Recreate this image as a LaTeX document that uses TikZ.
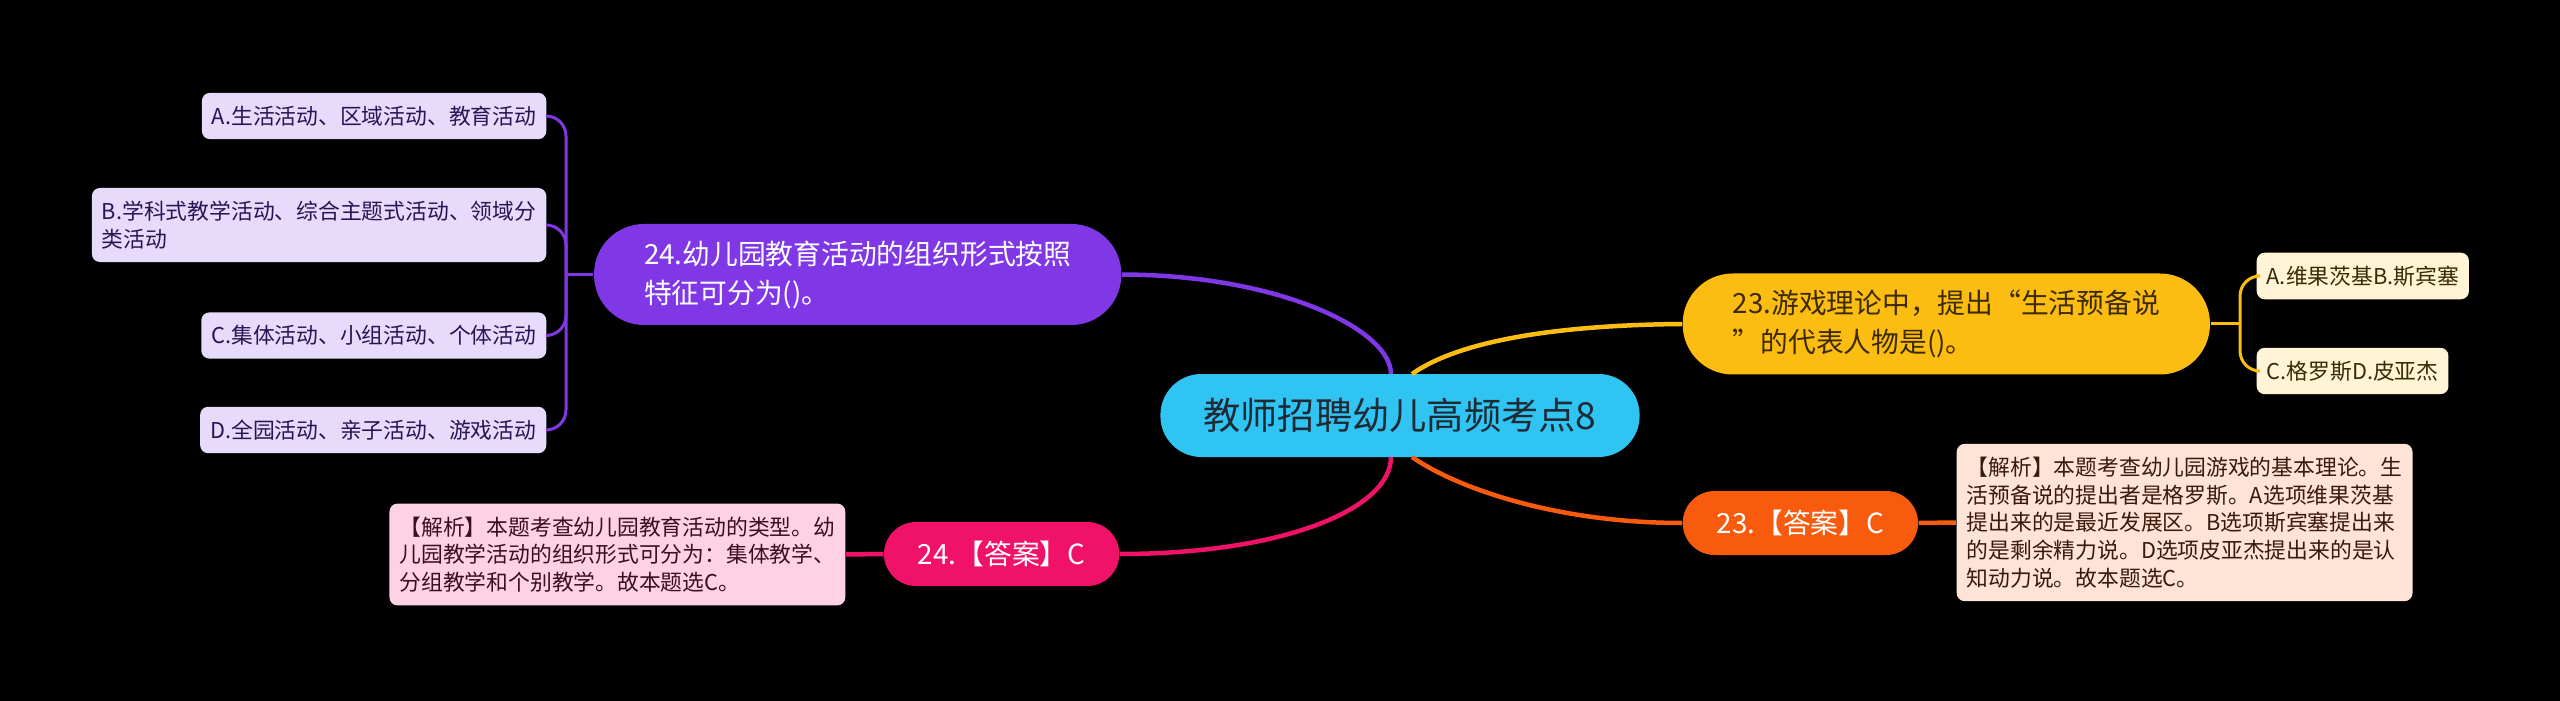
\documentclass[tikz,border=0pt]{standalone}
\usepackage{fontspec}
\setmainfont{Noto Sans CJK SC}
\usepackage{tikz}
\usetikzlibrary{positioning}

\definecolor{rootcol}{HTML}{30C4F2}
\definecolor{roottxt}{HTML}{1E2A35}
\definecolor{qpurple}{HTML}{8038E6}
\definecolor{optpurple}{HTML}{E6DBFA}
\definecolor{optpurpletxt}{HTML}{2B1455}
\definecolor{apink}{HTML}{F01169}
\definecolor{notepink}{HTML}{FFD1E5}
\definecolor{notepinktxt}{HTML}{3A0F22}
\definecolor{qyellow}{HTML}{FCBD12}
\definecolor{qyellowtxt}{HTML}{3D2A00}
\definecolor{optyellow}{HTML}{FFF4D6}
\definecolor{optyellowtxt}{HTML}{3A2A05}
\definecolor{aorange}{HTML}{F85B0D}
\definecolor{noteorange}{HTML}{FFE3D6}
\definecolor{noteorangetxt}{HTML}{3A1A0A}

\begin{document}
\begin{tikzpicture}[
    x=0.1mm, y=0.1mm,
    root/.style={fill=rootcol, text=roottxt, rounded corners=4.1mm, minimum height=8.3mm, inner xsep=4.3mm, font=\fontsize{10.6}{12}\selectfont},
    topic/.style={rounded corners=5mm, minimum height=10.1mm, inner xsep=5mm, align=left, text=white, font=\fontsize{7.9}{11.1}\selectfont},
    ans/.style={rounded corners=3.2mm, minimum height=6.4mm, inner xsep=3.4mm, text=white, font=\fontsize{7.9}{11.1}\selectfont},
    leaf/.style={rounded corners=0.8mm, minimum height=4.4mm, inner xsep=1mm, inner ysep=1.3mm, align=left, font=\fontsize{6.2}{7.9}\selectfont},
    link/.style={line width=0.45mm},
    sublink/.style={line width=0.3mm, rounded corners=2mm}
  ]
    \fill[black] (0,0) rectangle (2560,-701);

    \node[root] (root) at (1400,-415.5) {教师招聘幼儿高频考点8};

    % left side
    \node[topic, fill=qpurple, anchor=east] (q24) at (1122,-274.5) {24.幼儿园教育活动的组织形式按照\\特征可分为()。};
    \node[leaf, fill=optpurple, text=optpurpletxt, anchor=east] (o24a) at (547,-116) {A.生活活动、区域活动、教育活动};
    \node[leaf, fill=optpurple, text=optpurpletxt, anchor=east] (o24b) at (547,-225) {B.学科式教学活动、综合主题式活动、领域分\\类活动};
    \node[leaf, fill=optpurple, text=optpurpletxt, anchor=east] (o24c) at (547,-335.5) {C.集体活动、小组活动、个体活动};
    \node[leaf, fill=optpurple, text=optpurpletxt, anchor=east] (o24d) at (547,-430) {D.全园活动、亲子活动、游戏活动};
    \node[ans, fill=apink, anchor=east] (a24) at (1120,-554) {24.【答案】C};
    \node[leaf, fill=notepink, text=notepinktxt, anchor=east] (n24) at (846,-554.5) {【解析】本题考查幼儿园教育活动的类型。幼\\儿园教学活动的组织形式可分为：集体教学、\\分组教学和个别教学。故本题选C。};

    % right side
    \node[topic, fill=qyellow, text=qyellowtxt, anchor=west] (q23) at (1682,-324) {23.游戏理论中，提出“生活预备说\\”的代表人物是()。};
    \node[leaf, fill=optyellow, text=optyellowtxt, anchor=west] (o23a) at (2256,-276) {A.维果茨基B.斯宾塞};
    \node[leaf, fill=optyellow, text=optyellowtxt, anchor=west] (o23c) at (2256,-371) {C.格罗斯D.皮亚杰};
    \node[ans, fill=aorange, anchor=west] (a23) at (1682,-523) {23.【答案】C};
    \node[leaf, fill=noteorange, text=noteorangetxt, anchor=west] (n23) at (1956,-522.5) {【解析】本题考查幼儿园游戏的基本理论。生\\活预备说的提出者是格罗斯。A选项维果茨基\\提出来的是最近发展区。B选项斯宾塞提出来\\的是剩余精力说。D选项皮亚杰提出来的是认\\知动力说。故本题选C。};

    % connectors
    \coordinate (rtop1) at (1391,-374);
    \coordinate (rtop2) at (1412,-374);
    \coordinate (rbot1) at (1391,-457);
    \coordinate (rbot2) at (1412,-457);
    \coordinate (j24) at (566,-274.5);
    \coordinate (j23) at (2240,-324);

    \draw[link, qpurple] (rtop1) .. controls (1391,-330) and (1280,-275) .. (q24.east);
    \draw[link, qyellow] (rtop2) .. controls (1460,-340) and (1560,-325) .. (q23.west);
    \draw[link, apink] (rbot1) .. controls (1391,-510) and (1280,-554) .. (a24.east);
    \draw[link, aorange] (rbot2) .. controls (1460,-490) and (1560,-523) .. (a23.west);

    \draw[sublink, qpurple] (q24.west) -- (j24);
    \draw[sublink, qpurple] (j24) |- (o24a.east);
    \draw[sublink, qpurple] (j24) |- (o24b.east);
    \draw[sublink, qpurple] (j24) |- (o24c.east);
    \draw[sublink, qpurple] (j24) |- (o24d.east);
    \draw[link, apink] (a24.west) -- (n24.east);

    \draw[sublink, qyellow] (q23.east) -- (j23);
    \draw[sublink, qyellow] (j23) |- (o23a.west);
    \draw[sublink, qyellow] (j23) |- (o23c.west);
    \draw[link, aorange] (a23.east) -- (n23.west);
  \end{tikzpicture}
\end{document}
